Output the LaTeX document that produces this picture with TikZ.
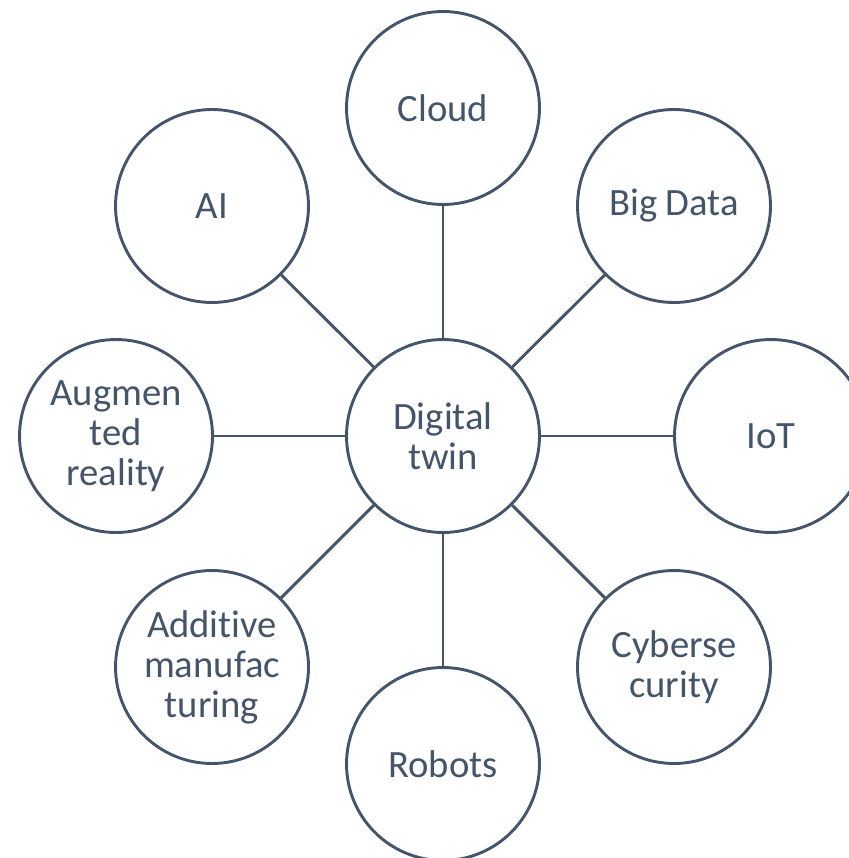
\documentclass[tikz,border=0pt]{standalone}
\usepackage{fontspec}
\setmainfont[Ligatures={NoCommon,NoRare,NoDiscretionary}]{Carlito}
\usepackage{tikz}
\definecolor{slate}{HTML}{44546A}
\tikzset{
  topic/.style={circle,draw=slate,line width=0.058cm,minimum size=3.86cm,inner sep=0pt,
    text=slate,align=center,font=\fontsize{22}{22.8}\selectfont},
  link/.style={draw=slate,line width=0.058cm}
}
\begin{document}
\begin{tikzpicture}[x=0.02cm,y=-0.02cm]
    \useasboundingbox (0,0) rectangle (848,858);
    \node[topic] (twin) at (443,436) {Digital\\twin};
    \node[topic] (cloud) at (443,108) {Cloud};
    \node[topic] (bigdata) at (674,206) {Big Data};
    \node[topic] (iot) at (771,436) {IoT};
    \node[topic] (cyber) at (674,667) {Cyberse\\curity};
    \node[topic] (robots) at (443,764) {Robots};
    \node[topic] (additive) at (212,667) {Additive\\manufac\\turing};
    \node[topic] (ar) at (116,436) {Augmen\\ted\\reality};
    \node[topic] (ai) at (212,206) {AI};
    \draw[link] (twin) -- (cloud);
    \draw[link] (twin) -- (bigdata);
    \draw[link] (twin) -- (iot);
    \draw[link] (twin) -- (cyber);
    \draw[link] (twin) -- (robots);
    \draw[link] (twin) -- (additive);
    \draw[link] (twin) -- (ar);
    \draw[link] (twin) -- (ai);
\end{tikzpicture}
\end{document}
